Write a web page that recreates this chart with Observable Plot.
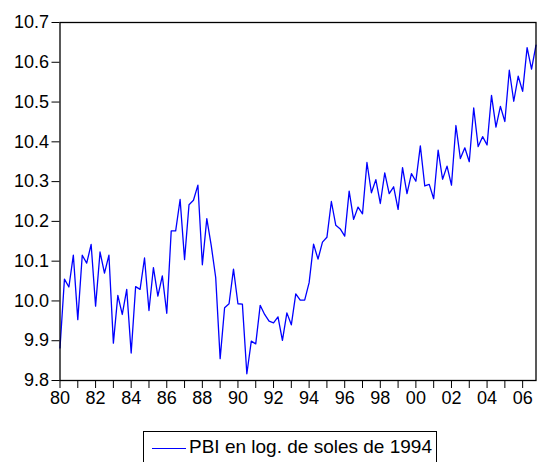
<!DOCTYPE html>
<html>
<head>
<meta charset="utf-8">
<script src="https://cdn.jsdelivr.net/npm/d3@7"></script>
<script src="https://cdn.jsdelivr.net/npm/@observablehq/plot@0.6"></script>
<style>
  html, body { margin: 0; padding: 0; background: #fff; }
  body { width: 541px; height: 462px; position: relative; overflow: hidden; font-family: "Liberation Sans", Arial, sans-serif; }
  #chart { position: absolute; left: 0; top: 0; }
  #legend { position: absolute; left: 143px; top: 431px; width: 294px; height: 40px; border: 1px solid #000; box-sizing: border-box; font-size: 19px; line-height: 22px; color: #000; }
  #legend svg { position: absolute; left: 8px; top: 0; }
  #legend span { position: absolute; left: 45px; top: 4px; white-space: nowrap; }
</style>
</head>
<body>
<div id="chart"></div>
<div id="legend"><svg width="36" height="30"><line x1="0" x2="34" y1="16.5" y2="16.5" stroke="#0000ff" stroke-width="1.2"></line></svg><span id="legtext"></span></div>
<script>
// Quarterly series 1980Q1 - 2006Q4
const startYear = 1980;
const periodsPerYear = 4;
const seriesName = "PBI en log. de soles de 1994";
const pbiLog = [
  9.882, 10.055, 10.035, 10.115,   // 1980
  9.953, 10.115, 10.095, 10.142,   // 1981
  9.987, 10.123, 10.070, 10.115,   // 1982
  9.894, 10.014, 9.966, 10.029,    // 1983
  9.869, 10.036, 10.029, 10.108,   // 1984
  9.976, 10.084, 10.012, 10.063,   // 1985
  9.969, 10.176, 10.176, 10.255,   // 1986
  10.104, 10.242, 10.253, 10.291,  // 1987
  10.091, 10.207, 10.139, 10.059,  // 1988
  9.855, 9.983, 9.993, 10.080,     // 1989
  9.993, 9.992, 9.817, 9.899,      // 1990
  9.892, 9.989, 9.966, 9.949,      // 1991
  9.945, 9.960, 9.901, 9.970,      // 1992
  9.940, 10.018, 10.002, 10.002,   // 1993
  10.046, 10.143, 10.105, 10.148,  // 1994
  10.160, 10.250, 10.190, 10.181,  // 1995
  10.163, 10.276, 10.205, 10.236,  // 1996
  10.219, 10.348, 10.272, 10.305,  // 1997
  10.245, 10.322, 10.270, 10.287,  // 1998
  10.230, 10.335, 10.270, 10.320,  // 1999
  10.301, 10.390, 10.289, 10.293,  // 2000
  10.257, 10.379, 10.306, 10.339,  // 2001
  10.291, 10.441, 10.358, 10.385,  // 2002
  10.350, 10.485, 10.388, 10.413,  // 2003
  10.392, 10.517, 10.437, 10.489,  // 2004
  10.451, 10.580, 10.502, 10.565,  // 2005
  10.527, 10.637, 10.583, 10.643   // 2006
];
const yTicks = [9.8, 9.9, 10.0, 10.1, 10.2, 10.3, 10.4, 10.5, 10.6, 10.7];
const xTickYears = d3.range(1980, 2007);
const xTickLabels = ["80","","82","","84","","86","","88","","90","","92","","94","","96","","98","","00","","02","","04","","06"];

const data = pbiLog.map((v, i) => ({t: startYear + i / periodsPerYear, v}));
const lastT = data[data.length - 1].t;

document.getElementById("legtext").textContent = seriesName;

const chart = Plot.plot({
  width: 541,
  height: 425,
  marginLeft: 59.5,
  marginRight: 5.5,
  marginTop: 22,
  marginBottom: 45,
  style: {fontFamily: '"Liberation Sans", Arial, sans-serif', fontSize: "18px", color: "#000", background: "#fff"},
  x: {domain: [startYear, lastT], axis: null},
  y: {domain: [9.8, 10.7], axis: null},
  marks: [
    Plot.axisX({ticks: xTickYears, tickSize: 8, tickPadding: 3, tickFormat: (d) => xTickLabels[xTickYears.indexOf(d)], stroke: "#000", label: null, fontSize: 18}),
    Plot.axisY({ticks: yTicks, tickSize: 8, tickPadding: 3, tickFormat: d3.format(".1f"), stroke: "#000", label: null, fontSize: 18}),
    Plot.line(data, {x: "t", y: "v", stroke: "#0000ff", strokeWidth: 1.3}),
    Plot.frame({stroke: "#000", strokeWidth: 1.3})
  ]
});
document.getElementById("chart").appendChild(chart);
</script>
</body>
</html>
